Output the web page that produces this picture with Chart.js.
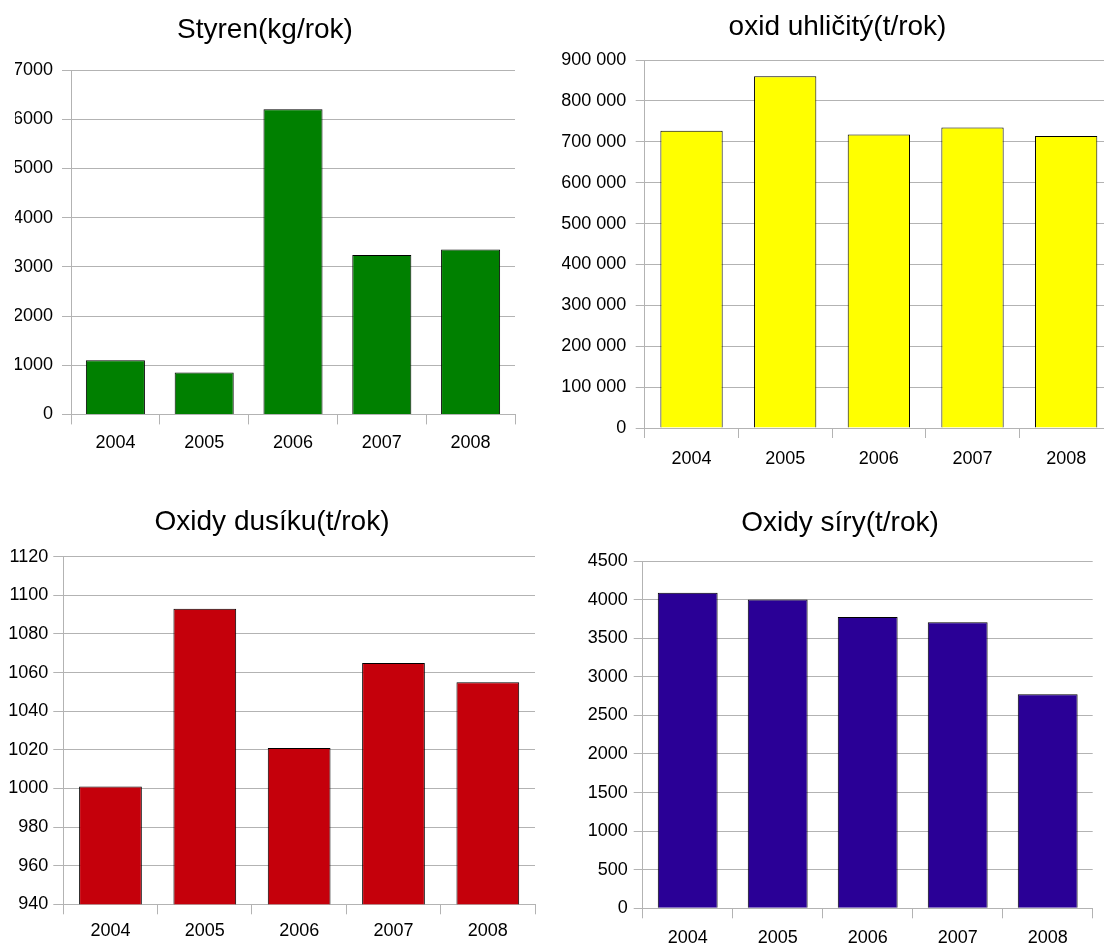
<!DOCTYPE html>
<html>
<head>
<meta charset="utf-8">
<script src="https://cdn.jsdelivr.net/npm/chart.js@4/dist/chart.umd.min.js"></script>
<style>
  html, body { margin: 0; padding: 0; background: #ffffff; }
  body { position: relative; width: 1104px; height: 945px; overflow: hidden; }
  canvas { position: absolute; }
</style>
</head>
<body>
<canvas id="c1"></canvas>
<canvas id="c2"></canvas>
<canvas id="c3"></canvas>
<canvas id="c4"></canvas>
<script>
// Categories shared by all four panels
const years = ['2004', '2005', '2006', '2007', '2008'];

// Annual emissions
const styren = [1100, 850, 6200, 3240, 3350];            // kg/rok
const oxidUhlicity = [727000, 860000, 718000, 735000, 714000]; // t/rok
const oxidyDusiku = [1001, 1093, 1021, 1065, 1055];      // t/rok
const oxidySiry = [4090, 4000, 3775, 3705, 2775];        // t/rok

// Value axes: [min, max, step]
const styrenAxis = [0, 7000, 1000];
const uhlicityAxis = [0, 900000, 100000];
const dusikuAxis = [940, 1120, 20];
const siryAxis = [0, 4500, 500];

const titles = ['Styren(kg/rok)', 'oxid uhličitý(t/rok)', 'Oxidy dusíku(t/rok)', 'Oxidy síry(t/rok)'];

const GRID = '#b3b3b3';
const FONT = "'Liberation Sans', Arial, sans-serif";

function spaced(v) {
  return String(v).replace(/\B(?=(\d{3})+(?!\d))/g, ' ');
}

function panel(id, p) {
  const cv = document.getElementById(id);
  cv.width = p.w; cv.height = p.h;
  cv.style.left = p.x + 'px'; cv.style.top = p.y + 'px';
  cv.style.width = p.w + 'px'; cv.style.height = p.h + 'px';
  return new Chart(cv, {
    type: 'bar',
    data: {
      labels: years,
      datasets: [{
        data: p.values,
        backgroundColor: p.color,
        borderColor: '#000000',
        borderWidth: 1,
        categoryPercentage: 1,
        barPercentage: 0.665
      }]
    },
    options: {
      responsive: false,
      animation: false,
      events: [],
      devicePixelRatio: 1,
      layout: { padding: { left: p.padL, right: p.padR, top: 0, bottom: 0 } },
      plugins: {
        legend: { display: false },
        tooltip: { enabled: false },
        title: {
          display: true,
          text: p.title,
          color: '#000000',
          font: { family: FONT, size: 28, weight: 'normal', lineHeight: 1.2 },
          padding: { top: p.titleTop, bottom: p.titleBottom }
        }
      },
      scales: {
        x: {
          afterFit: s => { s.height = p.xH; },
          grid: {
            offset: true,
            drawOnChartArea: true,
            color: ctx => (ctx.index === years.length ? GRID : 'rgba(0,0,0,0)'),
            tickColor: GRID,
            tickLength: 10,
            lineWidth: 1
          },
          border: { color: GRID, width: 1 },
          ticks: {
            color: '#000000',
            padding: p.xPad,
            maxRotation: 0,
            font: { family: FONT, size: 18 }
          }
        },
        y: {
          min: p.axis[0],
          max: p.axis[1],
          afterFit: s => { s.width = p.yW; },
          grid: { color: GRID, tickColor: GRID, tickLength: p.yTick, lineWidth: 1 },
          border: { color: GRID, width: 1 },
          ticks: {
            stepSize: p.axis[2],
            color: '#000000',
            padding: p.yPad,
            font: { family: FONT, size: 18 },
            callback: p.fmt || (v => String(v))
          }
        }
      }
    }
  });
}

panel('c1', {
  x: 0, y: 0, w: 525, h: 470, padL: 15, padR: 10, yW: 56, xH: 55.6,
  titleTop: 13.2, titleBottom: 23.2, xPad: 8, yPad: 9, yTick: 9,
  values: styren, axis: styrenAxis, color: '#008000', title: titles[0]
});

panel('c2', {
  x: 552, y: 0, w: 566, h: 470, padL: 10, padR: 5, yW: 82.7, xH: 42,
  titleTop: 10.2, titleBottom: 16.2, xPad: 10.5, yPad: 9.5, yTick: 9,
  values: oxidUhlicity, axis: uhlicityAxis, color: '#ffff00', title: titles[1],
  fmt: v => spaced(v)
});

panel('c3', {
  x: 0, y: 470, w: 545, h: 475, padL: 9, padR: 10, yW: 54.3, xH: 40.7,
  titleTop: 35.2, titleBottom: 17.9, xPad: 6, yPad: 5, yTick: 10,
  values: oxidyDusiku, axis: dusikuAxis, color: '#c5000b', title: titles[2]
});

panel('c4', {
  x: 552, y: 470, w: 549, h: 475, padL: 35.3, padR: 8.3, yW: 55.4, xH: 36.7,
  titleTop: 36.2, titleBottom: 21.2, xPad: 9, yPad: 6, yTick: 9,
  values: oxidySiry, axis: siryAxis, color: '#2a0096', title: titles[3]
});
</script>
</body>
</html>
